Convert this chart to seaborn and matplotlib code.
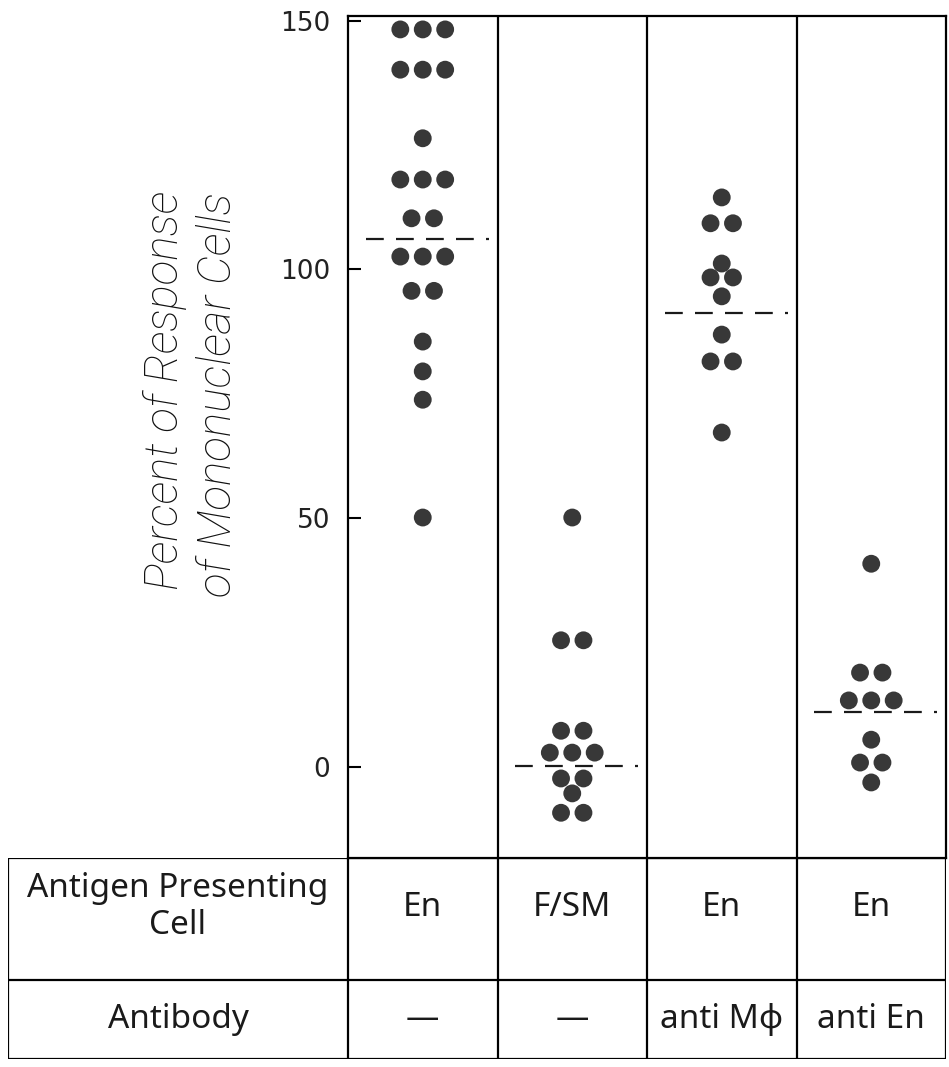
import numpy as np
import pandas as pd
import matplotlib
matplotlib.use("Agg")
import matplotlib.pyplot as plt
import seaborn as sns

# Culture conditions (one column each)
apc_labels = ["En", "F/SM", "En", "En"]
antibody_labels = ["\u2014", "\u2014", "anti M\u03d5", "anti En"]

# Percent of response of mononuclear cells, one value per experiment
en_none = [148.3, 148.3, 148.3, 140.2, 140.2, 140.2, 126.4,
           118.1, 118.1, 118.1, 110.3, 110.3, 102.6, 102.6, 102.6,
           95.7, 95.7, 85.5, 79.5, 73.8, 50.1]
fsm_none = [50.1, 25.4, 25.4, 7.2, 7.2, 2.8, 2.8, 2.8,
            -2.4, -2.4, -5.4, -9.3, -9.3]
en_anti_mphi = [114.5, 109.3, 109.3, 101.2, 98.4, 98.4, 94.6,
                86.9, 81.5, 81.5, 67.2]
en_anti_en = [40.8, 18.9, 18.9, 13.3, 13.3, 13.3, 5.4, 0.8, 0.8, -3.2]

# Group means shown as dashed lines
group_means = [106.2, 0.2, 91.3, 10.9]

yticks = [0, 50, 100, 150]

series = [en_none, fsm_none, en_anti_mphi, en_anti_en]

# Build a long table; identical values in a column sit side by side
rows = []
step = 0.15
for col, vals in enumerate(series):
    vals = np.asarray(vals, dtype=float)
    for v in np.unique(vals):
        n = int(np.sum(vals == v))
        for k in range(n):
            rows.append({"col": col, "value": v,
                         "xpos": col + (k - (n - 1) / 2) * step})
df = pd.DataFrame(rows)

sns.set_theme(style="white")
plt.rcParams["font.family"] = ["DejaVu Sans"]

W, H = 949, 1067
fig = plt.figure(figsize=(W / 100, H / 100), dpi=100)
fig.patch.set_facecolor("white")

# Main dot plot area (pixel geometry converted to figure fractions)
left_px, right_px, top_px, bottom_px = 348, 946, 16, 858
ax = fig.add_axes([left_px / W, 1 - bottom_px / H,
                   (right_px - left_px) / W, (bottom_px - top_px) / H])

sns.scatterplot(data=df, x="xpos", y="value", ax=ax, color="#383838",
                s=165, edgecolor="none", legend=False, zorder=3)

for i, m in enumerate(group_means):
    ax.plot([i - 0.38, i + 0.44], [m, m], color="#1a1a1a", lw=1.6,
            ls=(0, (8, 5.5)), solid_capstyle="butt", zorder=2)

for xv in [0.5, 1.5, 2.5]:
    ax.axvline(xv, color="black", lw=1.6, zorder=1)

ax.set_xlim(-0.5, 3.5)
ax.set_ylim(-18.4, 151.0)
ax.set_xticks([])
ax.set_yticks(yticks)
ax.set_yticklabels([str(t) for t in yticks], fontsize=19, color="#222222")
ax.tick_params(axis="y", direction="in", length=9, width=1.5, pad=13,
               left=True, color="black")
ax.set_xlabel("")
ax.set_ylabel("")
for sp in ax.spines.values():
    sp.set_visible(True)
    sp.set_color("black")
    sp.set_linewidth(1.6)

# Axis title, two lines set in light italic
ylab_kw = dict(rotation=90, ha="center", va="center", fontsize=33,
               style="italic", weight="light",
               family=["Roboto", "DejaVu Sans"], color="#111111")
fig.text(165 / W, 1 - 390 / H, "Percent of Response", **ylab_kw)
fig.text(218 / W, 1 - 395 / H, "of Mononuclear Cells", **ylab_kw)

# Condition table underneath the plot
tab_left, tab_bottom = 8, 1059
unit_px = (right_px - left_px) / 4.0
x_min = -0.5 - (left_px - tab_left) / unit_px
tax = fig.add_axes([tab_left / W, 1 - tab_bottom / H,
                    (right_px - tab_left) / W, (tab_bottom - bottom_px) / H])
tax.set_xlim(x_min, 3.5)
tax.set_ylim(0, 1)
tax.axis("off")
span = tab_bottom - bottom_px
mid = (tab_bottom - 980) / span
line_kw = dict(color="black", lw=1.6, solid_capstyle="butt")
for yv in [0, mid, 1]:
    tax.plot([x_min, 3.5], [yv, yv], **line_kw)
for xv in [x_min, -0.5, 0.5, 1.5, 2.5, 3.5]:
    tax.plot([xv, xv], [0, 1], **line_kw)

txt_kw = dict(ha="center", va="center", fontsize=24, color="#1a1a1a",
              family=["Noto Sans", "DejaVu Sans"])
head_x = (x_min - 0.5) / 2
row1 = (tab_bottom - 907) / span
row2 = (tab_bottom - 1020) / span
tax.text(head_x, row1, "Antigen Presenting\nCell", linespacing=1.15, **txt_kw)
tax.text(head_x, row2, "Antibody", **txt_kw)
for i, (a, b) in enumerate(zip(apc_labels, antibody_labels)):
    tax.text(i, row1, a, **txt_kw)
    tax.text(i, row2, b, **txt_kw)

fig.savefig("out.png", dpi=100, facecolor="white")
